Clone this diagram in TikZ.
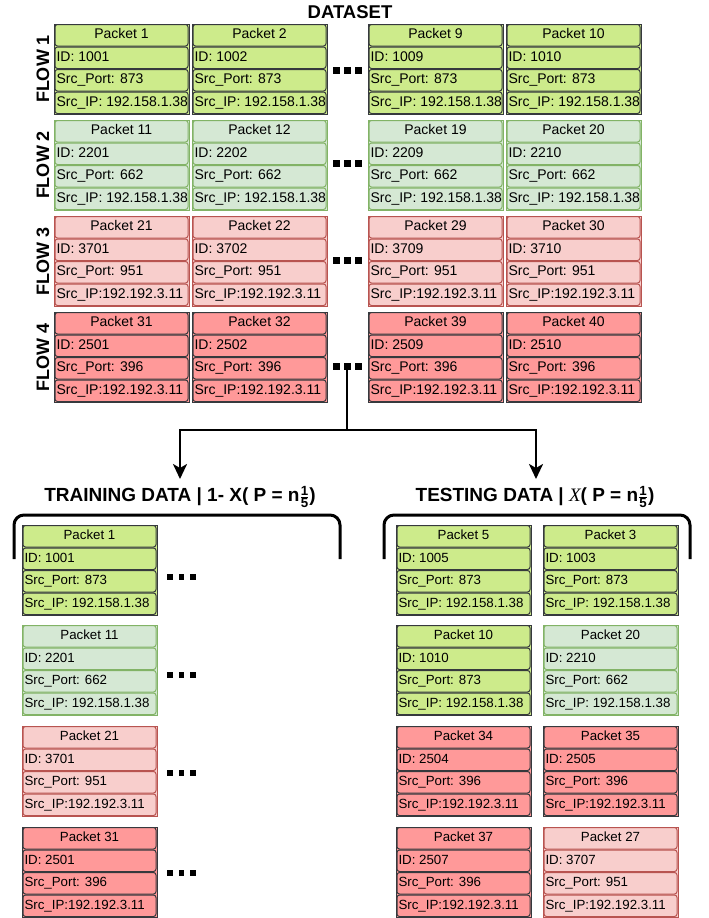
\documentclass[tikz,border=0pt]{standalone}
\usepackage{amsmath}
\usepackage{fontspec}
\setmainfont{Liberation Sans}
\newfontfamily\seriffont{Liberation Serif}
\usetikzlibrary{arrows.meta}
\definecolor{gAf}{HTML}{CDEB8B}
\definecolor{gAd}{HTML}{36393D}
\definecolor{gBf}{HTML}{D5E8D4}
\definecolor{gBd}{HTML}{82B366}
\definecolor{rAf}{HTML}{F8CECC}
\definecolor{rAd}{HTML}{B85450}
\definecolor{rBf}{HTML}{FF9999}
\definecolor{rBd}{HTML}{36393D}
\newcommand\pktfont{\fontsize{14}{16}\selectfont}
\newcommand\pkt[8]{%
  \draw[#4] (#2,#3) rectangle ++(135,90);
  \node[cell,#4] (#1-h) at ({#2+67.5},{#3+11.25}) {\makebox[130pt][c]{#5}};
  \node[cell,#4] (#1-id) at ({#2+67.5},{#3+33.75}) {\makebox[130pt][l]{#6}};
  \node[cell,#4] (#1-port) at ({#2+67.5},{#3+56.25}) {\makebox[130pt][l]{#7}};
  \node[cell,#4] (#1-ip) at ({#2+67.5},{#3+78.75}) {\makebox[130pt][l]{#8}};
}
\newcommand\bigdots{\rule{7pt}{7pt}\hspace{4pt}\rule{7pt}{7pt}\hspace{4pt}\rule{7pt}{7pt}}
\newcommand\smalldots{\rule{5.7pt}{5.7pt}\hspace{6pt}\rule{5.7pt}{5.7pt}\hspace{6pt}\rule{5.7pt}{5.7pt}}
\newcommand\frc{\ensuremath{\genfrac{}{}{0.8pt}{1}{\text{1}}{\text{5}}}}
\tikzset{
  gA/.style={fill=gAf, draw=gAd, line width=1pt},
  gB/.style={fill=gBf, draw=gBd, line width=1pt},
  rA/.style={fill=rAf, draw=rAd, line width=1pt},
  rB/.style={fill=rBf, draw=rBd, line width=1pt},
  cell/.style={rounded corners=2.5pt, minimum width=133pt, minimum height=21.5pt,
    inner ysep=0pt, inner xsep=1.5pt,
    text height=10pt, text depth=3pt, font=\pktfont},
  flowlbl/.style={rotate=90, font=\bfseries\fontsize{18}{18}\selectfont, inner sep=0pt},
  hdr/.style={font=\bfseries\fontsize{19}{21}\selectfont, inner sep=0pt},
  dotsnode/.style={inner sep=0pt},
  conn/.style={line width=2.5pt, black},
  brk/.style={line width=3pt, black, rounded corners=10pt},
  tip/.style={-{Stealth[length=15pt,width=14pt,inset=4pt]}},
}
\begin{document}
\begin{tikzpicture}[x=1pt,y=-1pt]
\useasboundingbox (0,0) rectangle (709,918);
\node[hdr, font=\bfseries\fontsize{18.5}{20}\selectfont] (dataset) at (350,12) {DATASET};
% flows
\node[flowlbl] (fl1) at (43,69) {FLOW 1};
\node[flowlbl] (fl2) at (43,165) {FLOW 2};
\node[flowlbl] (fl3) at (43,261) {FLOW 3};
\node[flowlbl] (fl4) at (43,357) {FLOW 4};
\pkt{p1}{54}{24}{gA}{Packet 1}{ID: 1001}{Src\_Port: 873}{Src\_IP: 192.158.1.38}
\pkt{p2}{192}{24}{gA}{Packet 2}{ID: 1002}{Src\_Port: 873}{Src\_IP: 192.158.1.38}
\pkt{p9}{368}{24}{gA}{Packet 9}{ID: 1009}{Src\_Port: 873}{Src\_IP: 192.158.1.38}
\pkt{p10}{506}{24}{gA}{Packet 10}{ID: 1010}{Src\_Port: 873}{Src\_IP: 192.158.1.38}
\pkt{p11}{54}{120}{gB}{Packet 11}{ID: 2201}{Src\_Port: 662}{Src\_IP: 192.158.1.38}
\pkt{p12}{192}{120}{gB}{Packet 12}{ID: 2202}{Src\_Port: 662}{Src\_IP: 192.158.1.38}
\pkt{p19}{368}{120}{gB}{Packet 19}{ID: 2209}{Src\_Port: 662}{Src\_IP: 192.158.1.38}
\pkt{p20}{506}{120}{gB}{Packet 20}{ID: 2210}{Src\_Port: 662}{Src\_IP: 192.158.1.38}
\pkt{p21}{54}{216}{rA}{Packet 21}{ID: 3701}{Src\_Port: 951}{Src\_IP:192.192.3.11}
\pkt{p22}{192}{216}{rA}{Packet 22}{ID: 3702}{Src\_Port: 951}{Src\_IP:192.192.3.11}
\pkt{p29}{368}{216}{rA}{Packet 29}{ID: 3709}{Src\_Port: 951}{Src\_IP:192.192.3.11}
\pkt{p30}{506}{216}{rA}{Packet 30}{ID: 3710}{Src\_Port: 951}{Src\_IP:192.192.3.11}
\pkt{p31}{54}{312}{rB}{Packet 31}{ID: 2501}{Src\_Port: 396}{Src\_IP:192.192.3.11}
\pkt{p32}{192}{312}{rB}{Packet 32}{ID: 2502}{Src\_Port: 396}{Src\_IP:192.192.3.11}
\pkt{p39}{368}{312}{rB}{Packet 39}{ID: 2509}{Src\_Port: 396}{Src\_IP:192.192.3.11}
\pkt{p40}{506}{312}{rB}{Packet 40}{ID: 2510}{Src\_Port: 396}{Src\_IP:192.192.3.11}
\node[dotsnode] (d1) at (347,70) {\bigdots};
\node[dotsnode] (d2) at (347,163) {\bigdots};
\node[dotsnode] (d3) at (347,260) {\bigdots};
\node[dotsnode] (d4) at (347,366) {\bigdots};
% split
\coordinate (split) at (347,430);
\coordinate (tl) at (180,479);
\coordinate (tr) at (536,479);
\draw[conn] (d4.south) -- (split);
\draw[conn,tip] (split) -| (tl);
\draw[conn,tip] (split) -| (tr);
% headers
\node[hdr] (trainhd) at (180,497) {TRAINING DATA | 1- X( P = n\frc)};
\node[hdr] (testhd) at (535,497) {TESTING DATA | {\fontseries{m}\seriffont\itshape X}( P = n\frc)};
\draw[brk] (14,559) -- (14,515) -- (340,515) -- (340,559);
\draw[brk] (384,559) -- (384,515) -- (690,515) -- (690,559);
% lower
\renewcommand\pktfont{\fontsize{13.3}{15}\selectfont}
\pkt{t1}{22}{525}{gA}{Packet 1}{ID: 1001}{Src\_Port: 873}{Src\_IP: 192.158.1.38}
\pkt{t11}{22}{625}{gB}{Packet 11}{ID: 2201}{Src\_Port: 662}{Src\_IP: 192.158.1.38}
\pkt{t21}{22}{726}{rA}{Packet 21}{ID: 3701}{Src\_Port: 951}{Src\_IP:192.192.3.11}
\pkt{t31}{22}{827}{rB}{Packet 31}{ID: 2501}{Src\_Port: 396}{Src\_IP:192.192.3.11}
\node[dotsnode] (e1) at (181.5,577) {\smalldots};
\node[dotsnode] (e2) at (181.5,675) {\smalldots};
\node[dotsnode] (e3) at (181.5,773) {\smalldots};
\node[dotsnode] (e4) at (181.5,873) {\smalldots};
\pkt{s5}{396}{525}{gA}{Packet 5}{ID: 1005}{Src\_Port: 873}{Src\_IP: 192.158.1.38}
\pkt{s3}{543}{525}{gA}{Packet 3}{ID: 1003}{Src\_Port: 873}{Src\_IP: 192.158.1.38}
\pkt{s10}{396}{625}{gA}{Packet 10}{ID: 1010}{Src\_Port: 873}{Src\_IP: 192.158.1.38}
\pkt{s20}{543}{625}{gB}{Packet 20}{ID: 2210}{Src\_Port: 662}{Src\_IP: 192.158.1.38}
\pkt{s34}{396}{726}{rB}{Packet 34}{ID: 2504}{Src\_Port: 396}{Src\_IP:192.192.3.11}
\pkt{s35}{543}{726}{rB}{Packet 35}{ID: 2505}{Src\_Port: 396}{Src\_IP:192.192.3.11}
\pkt{s37}{396}{827}{rB}{Packet 37}{ID: 2507}{Src\_Port: 396}{Src\_IP:192.192.3.11}
\pkt{s27}{543}{827}{rA}{Packet 27}{ID: 3707}{Src\_Port: 951}{Src\_IP:192.192.3.11}
\end{tikzpicture}
\end{document}
